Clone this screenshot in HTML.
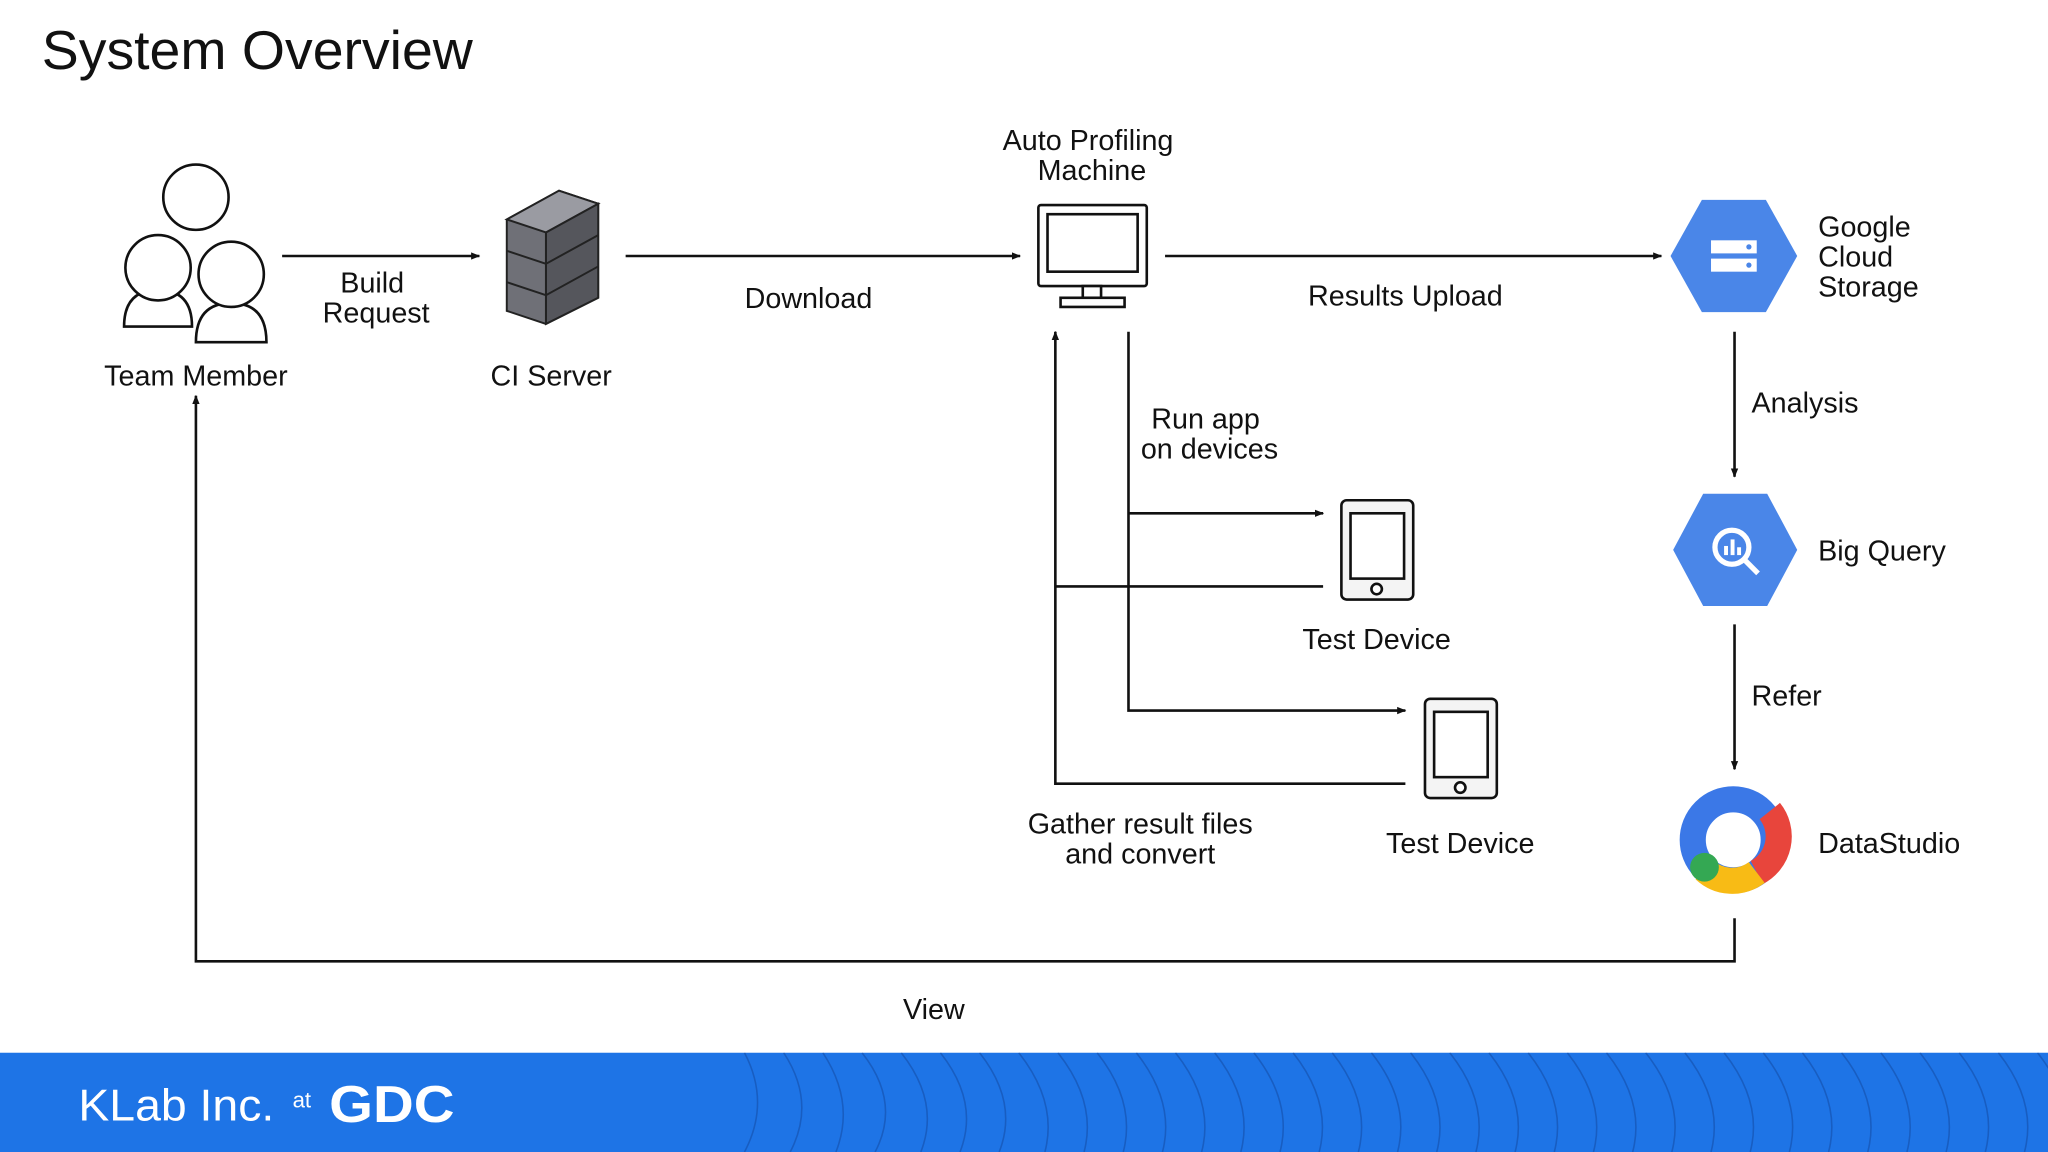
<!DOCTYPE html>
<html><head><meta charset="utf-8"><style>
html,body{margin:0;padding:0;background:#fff;}
svg{display:block;}
text{font-family:"Liberation Sans",sans-serif;fill:#111;}
</style></head><body>
<svg width="2048" height="1152" viewBox="0 0 1568 882" xmlns="http://www.w3.org/2000/svg">
<defs>
<marker id="a" viewBox="0 0 10 10" refX="9" refY="5" markerWidth="7" markerHeight="7" markerUnits="userSpaceOnUse" orient="auto"><path d="M0,1 L10,5 L0,9 z" fill="#111"/></marker>
<clipPath id="fc"><rect x="0" y="806" width="1568" height="76"/></clipPath>
</defs>
<rect width="1568" height="882" fill="#fff"/>
<text x="32" y="53" font-size="42" textLength="330" lengthAdjust="spacingAndGlyphs">System Overview</text>

<!-- Team member -->
<g fill="#fff" stroke="#111" stroke-width="2">
<path d="M95,250 Q95,222 121,222 Q147,222 147,250 Z"/>
<path d="M150,262 Q150,232 177,232 Q204,232 204,262 Z"/>
<circle cx="150" cy="151" r="25"/>
<circle cx="121" cy="205" r="25"/>
<circle cx="177" cy="210" r="25"/>
</g>
<g font-size="22">
<text x="150" y="295" text-anchor="middle">Team Member</text>
</g>

<g stroke="#111" stroke-width="2" fill="none">
<line x1="216" y1="196" x2="367" y2="196" marker-end="url(#a)"/>
<line x1="479" y1="196" x2="781" y2="196" marker-end="url(#a)"/>
<line x1="892" y1="196" x2="1272" y2="196" marker-end="url(#a)"/>
<line x1="1328" y1="254" x2="1328" y2="365" marker-end="url(#a)"/>
<line x1="1328" y1="478" x2="1328" y2="589" marker-end="url(#a)"/>
<polyline points="1328,703 1328,736 150,736 150,303" marker-end="url(#a)"/>
<polyline points="864,254 864,544 1076,544" marker-end="url(#a)"/>
<line x1="864" y1="393" x2="1013" y2="393" marker-end="url(#a)"/>
<polyline points="1013,449 808,449"/>
<polyline points="1076,600 808,600 808,254" marker-end="url(#a)"/>
</g>
<g font-size="22">
<text x="285" y="224" text-anchor="middle">Build</text>
<text x="288" y="247" text-anchor="middle">Request</text>
<text x="619" y="236" text-anchor="middle">Download</text>
<text x="1076" y="234" text-anchor="middle">Results Upload</text>
<text x="1341" y="316">Analysis</text>
<text x="1341" y="540">Refer</text>
<text x="715" y="780" text-anchor="middle">View</text>
<text x="923" y="328" text-anchor="middle">Run app</text>
<text x="926" y="351" text-anchor="middle">on devices</text>
<text x="873" y="638" text-anchor="middle">Gather result files</text>
<text x="873" y="661" text-anchor="middle">and convert</text>
</g>

<!-- CI server -->
<g stroke="#222" stroke-width="1.5">
<path d="M388,168 L428,146 L458,156 L458,228 L418,248 L388,238 Z" fill="#6f7077"/>
<path d="M388,168 L428,146 L458,156 L418,178 Z" fill="#9a9ba2"/>
<path d="M418,178 L458,156 L458,228 L418,248 Z" fill="#55565c"/>
<path d="M388,192 L418,202 L458,180 M388,216 L418,226 L458,204" fill="none"/>
<line x1="418" y1="178" x2="418" y2="248"/>
</g>
<text x="422" y="295" font-size="22" text-anchor="middle">CI Server</text>

<!-- Monitor -->
<g stroke="#111" stroke-width="2" fill="#fff">
<rect x="795" y="157" width="83" height="62" rx="2"/>
<rect x="802" y="164" width="69" height="44"/>
<rect x="829" y="219" width="14" height="9"/>
<rect x="812" y="228" width="49" height="7"/>
</g>
<text x="833" y="115" font-size="22" text-anchor="middle">Auto Profiling</text>
<text x="836" y="138" font-size="22" text-anchor="middle">Machine</text>

<!-- Tablets -->
<g stroke="#111" stroke-width="2" fill="#fff">
<rect x="1027" y="383" width="55" height="76" rx="4" fill="#f4f4f4"/>
<rect x="1034" y="393" width="41" height="50" fill="#fff"/>
<circle cx="1054" cy="451" r="4"/>
<rect x="1091" y="535" width="55" height="76" rx="4" fill="#f4f4f4"/>
<rect x="1098" y="545" width="41" height="50" fill="#fff"/>
<circle cx="1118" cy="603" r="4"/>
</g>
<text x="1054" y="497" font-size="22" text-anchor="middle">Test Device</text>
<text x="1118" y="653" font-size="22" text-anchor="middle">Test Device</text>

<!-- GCS -->
<path d="M1303,153 L1352,153 L1376,196 L1352,239 L1303,239 L1279,196 Z" fill="#4a86e8"/>
<rect x="1310" y="184" width="35" height="10" fill="#fff"/>
<rect x="1310" y="198" width="35" height="10" fill="#fff"/>
<circle cx="1339" cy="189" r="2" fill="#4a86e8"/><circle cx="1339" cy="203" r="2" fill="#4a86e8"/>
<text x="1392" y="181" font-size="22">Google</text>
<text x="1392" y="204" font-size="22">Cloud</text>
<text x="1392" y="227" font-size="22">Storage</text>

<!-- BigQuery -->
<path d="M1304,378 L1353,378 L1376,421 L1353,464 L1304,464 L1281,421 Z" fill="#4a86e8"/>
<circle cx="1326" cy="419" r="13" fill="none" stroke="#fff" stroke-width="4"/>
<line x1="1335" y1="428" x2="1346" y2="439" stroke="#fff" stroke-width="4"/>
<rect x="1320" y="418" width="3" height="7" fill="#fff"/><rect x="1325" y="413" width="3" height="12" fill="#fff"/><rect x="1330" y="419" width="3" height="6" fill="#fff"/>
<text x="1392" y="429" font-size="22">Big Query</text>

<!-- DataStudio -->
<circle cx="1327" cy="643" r="31" fill="none" stroke="#3b78e7" stroke-width="20"/>
<path d="M1355,621 A31,31 0 0 1 1345,668" fill="none" stroke="#e8453c" stroke-width="20"/>
<path d="M1345,668 A31,31 0 0 1 1305,666" fill="none" stroke="#f8bb15" stroke-width="20"/>
<circle cx="1305" cy="664" r="11" fill="#34a853"/>
<text x="1392" y="653" font-size="22">DataStudio</text>

<!-- Footer -->
<rect x="0" y="806" width="1568" height="76" fill="#1e74e6"/>
<g clip-path="url(#fc)" fill="none" stroke="#1658b8" stroke-width="1.2" opacity="0.8">
<path d="M570,806 q20,38 0,76 M600,806 q25,38 5,76 M630,806 q25,38 10,76 M660,806 q30,38 10,76 M690,806 q30,38 15,76 M720,806 q30,38 15,76 M750,806 q30,38 15,76 M780,806 q30,38 20,76 M810,806 q30,38 20,76 M840,806 q30,38 20,76 M870,806 q30,38 20,76 M900,806 q30,38 20,76 M930,806 q30,38 20,76 M960,806 q30,38 20,76 M990,806 q30,38 20,76 M1020,806 q30,38 20,76 M1050,806 q30,38 20,76 M1080,806 q30,38 20,76 M1110,806 q30,38 20,76 M1140,806 q30,38 20,76 M1170,806 q30,38 20,76 M1200,806 q30,38 20,76 M1230,806 q30,38 20,76 M1260,806 q30,38 20,76 M1290,806 q30,38 20,76 M1320,806 q30,38 20,76 M1350,806 q30,38 20,76 M1380,806 q30,38 20,76 M1410,806 q30,38 20,76 M1440,806 q30,38 20,76 M1470,806 q30,38 20,76 M1500,806 q30,38 20,76 M1530,806 q30,38 20,76 M1560,806 q30,38 20,76"/>
</g>
<text x="60" y="858" font-size="34" style="fill:#fff" textLength="150" lengthAdjust="spacingAndGlyphs">KLab Inc.</text>
<text x="224" y="848" font-size="17" style="fill:#fff">at</text>
<text x="252" y="859" font-size="40" font-weight="bold" style="fill:#fff" textLength="96" lengthAdjust="spacingAndGlyphs">GDC</text>
</svg>
</body></html>
